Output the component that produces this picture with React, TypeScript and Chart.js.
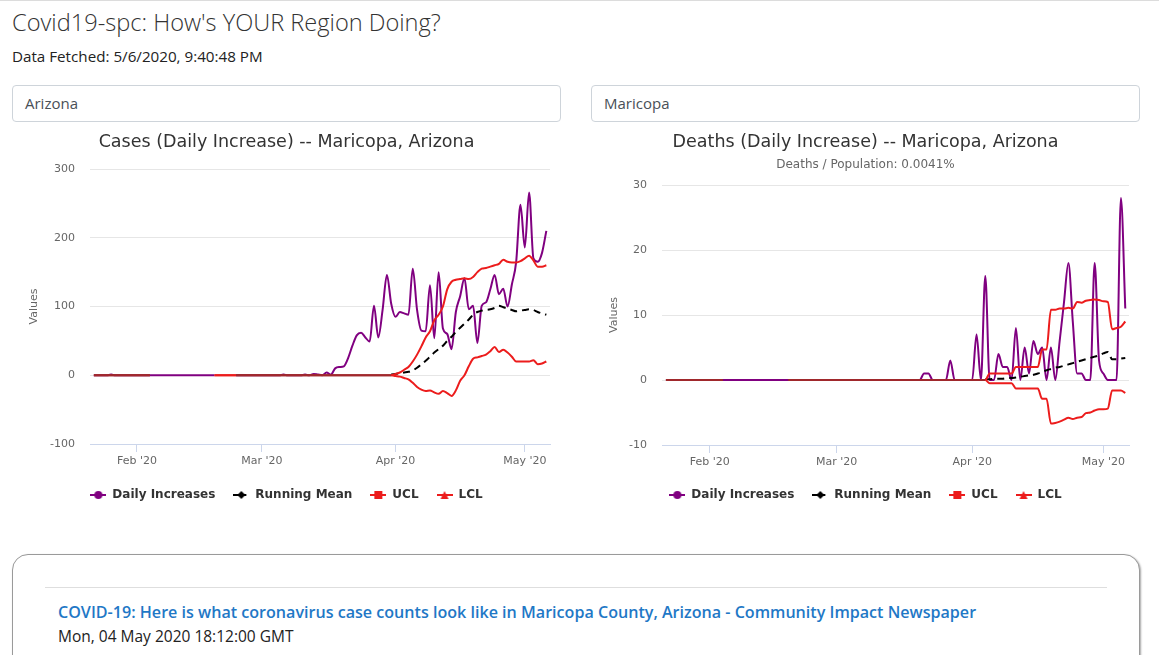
import React, { useEffect, useRef } from "react";
import { Chart, registerables } from "chart.js";

Chart.register(...registerables);

// One value per day, day 0 = 22 Jan 2020, last day = 6 May 2020.
const TICK_DAYS = [10, 39, 70, 100];
const TICK_LABELS = ["Feb '20", "Mar '20", "Apr '20", "May '20"];
const SERIES_NAMES = ["Daily Increases", "Running Mean", "UCL", "LCL"];

const casesDaily = [
  0, 0, 0, 0, 1, 0, 0, 0, 0, 0,
  0, 0, 0, 0, 0, 0, 0, 0, 0, 0,
  0, 0, 0, 0, 0, 0, 0, 0, 0, null,
  null, null, null, 0, 0, 0, 0, 0, 0, 0,
  0, 0, 0, 0, 1, 0, 0, 0, 0, 1,
  0, 2, 1, 0, 4, 1, 10, 12, 13, 25,
  43, 58, 62, 55, 49, 101, 55, 95, 146, 104,
  85, 92, 90, 88, 155, 95, 65, 64, 131, 54,
  150, 68, 60, 38, 92, 115, 141, 96, 101, 47,
  101, 106, 125, 146, 118, 126, 100, 132, 165, 248,
  186, 266, 170, 165, 178, 210,
];

const casesMean = [
  null, null, null, null, null, null, null, null, null, null,
  null, null, null, null, null, null, null, null, null, null,
  null, null, null, null, null, null, null, null, null, null,
  null, null, null, null, null, null, null, null, null, null,
  null, null, null, null, null, null, null, null, null, null,
  null, null, null, null, null, null, null, null, null, null,
  null, null, null, null, null, null, null, null, null, 1,
  2, 3, 4, 5, 7, 11, 16, 21, 27, 33,
  38, 43, 50, 56, 63, 69, 75, 81, 88, 92,
  94, 95, 96, 98, 101, 99, 97, 95, 93, 94,
  95, 96, 95, 92, 90, 88,
];

const casesUcl = [
  0, 0, 0, 0, 0, 0, 0, 0, 0, 0,
  0, 0, 0, 0, null, null, null, null, null, null,
  null, null, null, null, null, null, null, null, 0, 0,
  0, 0, 0, 0, 0, 0, 0, 0, 0, 0,
  0, 0, 0, 0, 0, 0, 0, 0, 0, 0,
  0, 0, 0, 0, 0, 0, 0, 0, 0, 0,
  0, 0, 0, 0, 0, 0, 0, 0, 0, 0,
  2, 4, 8, 12, 20, 30, 42, 55, 64, 80,
  88, 100, 125, 136, 139, 140, 141, 140, 143, 150,
  155, 156, 158, 160, 162, 168, 165, 164, 164, 166,
  170, 174, 167, 158, 158, 160,
];

const casesLcl = [
  0, 0, 0, 0, 0, 0, 0, 0, 0, 0,
  0, 0, 0, 0, null, null, null, null, null, null,
  null, null, null, null, null, null, null, null, 0, 0,
  0, 0, 0, 0, 0, 0, 0, 0, 0, 0,
  0, 0, 0, 0, 0, 0, 0, 0, 0, 0,
  0, 0, 0, 0, 0, 0, 0, 0, 0, 0,
  0, 0, 0, 0, 0, 0, 0, 0, 0, 0,
  -1, -2, -4, -6, -11, -17, -21, -23, -22, -25,
  -27, -23, -26, -30, -22, -8, 0, 13, 24, 26,
  28, 30, 35, 41, 34, 37, 33, 27, 20, 20,
  20, 20, 22, 16, 17, 20,
];

const deathsDaily = [
  0, 0, 0, 0, 0, 0, 0, 0, 0, 0,
  0, 0, 0, 0, 0, 0, 0, 0, 0, 0,
  0, 0, 0, 0, 0, 0, 0, 0, 0, 0,
  0, 0, 0, 0, 0, 0, 0, 0, 0, 0,
  0, 0, 0, 0, 0, 0, 0, 0, 0, 0,
  0, 0, 0, 0, 0, 0, 0, 0, 0, 1,
  1, 0, 0, 0, 0, 3, 0, 0, 0, 0,
  0, 7, 0, 16, 0, 0, 4, 2, 2, 0,
  8, 0, 5, 1, 6, 4, 5, 0, 5, 0,
  6, 12, 18, 9, 1, 1, 0, 0, 18, 3,
  1, 0, 0, 0, 28, 11,
];

const deathsMean = [
  null, null, null, null, null, null, null, null, null, null,
  null, null, null, null, null, null, null, null, null, null,
  null, null, null, null, null, null, null, null, null, null,
  null, null, null, null, null, null, null, null, null, null,
  null, null, null, null, null, null, null, null, null, null,
  null, null, null, null, null, null, null, null, null, null,
  null, null, null, null, null, null, null, null, null, null,
  null, null, null, 0.1, 0.1, 0.2, 0.2, 0.2, 0.3, 0.3,
  0.4, 0.5, 0.6, 0.7, 0.8, 1.0, 1.2, 1.5, 1.7, 1.9,
  2.0, 2.2, 2.4, 2.6, 2.8, 3.0, 3.2, 3.4, 3.6, 3.8,
  4.1, 4.3, 3.2, 3.2, 3.3, 3.4,
];

const deathsUcl = [
  0, 0, 0, 0, 0, 0, 0, 0, 0, 0,
  0, 0, 0, 0, null, null, null, null, null, null,
  null, null, null, null, null, null, null, null, 0, 0,
  0, 0, 0, 0, 0, 0, 0, 0, 0, 0,
  0, 0, 0, 0, 0, 0, 0, 0, 0, 0,
  0, 0, 0, 0, 0, 0, 0, 0, 0, 0,
  0, 0, 0, 0, 0, 0, 0, 0, 0, 0,
  0, 0, 0, 0, 1, 1, 1, 1, 1, 1,
  2, 2, 2, 2, 2, 2, 4.7, 4.7, 10.8, 10.8,
  11, 11, 11.1, 11, 12, 11.9, 12.2, 12.3, 12.4, 12.3,
  12.1, 12, 7.8, 8, 8.2, 9,
];

const deathsLcl = [
  0, 0, 0, 0, 0, 0, 0, 0, 0, 0,
  0, 0, 0, 0, null, null, null, null, null, null,
  null, null, null, null, null, null, null, null, 0, 0,
  0, 0, 0, 0, 0, 0, 0, 0, 0, 0,
  0, 0, 0, 0, 0, 0, 0, 0, 0, 0,
  0, 0, 0, 0, 0, 0, 0, 0, 0, 0,
  0, 0, 0, 0, 0, 0, 0, 0, 0, 0,
  0, 0, 0, 0, -0.5, -0.5, -0.5, -0.5, -0.5, -0.5,
  -1.3, -1.3, -1.3, -1.3, -1.3, -1.3, -2.9, -2.9, -6.7, -6.6,
  -6.4, -6.1, -5.8, -6.0, -5.8, -5.7, -5.1, -5.0, -4.7, -4.5,
  -4.5, -4.4, -1.6, -1.6, -1.6, -2.0,
];

const PURPLE = "#800080";
const BLACK = "#000000";
const RED = "#ec1c1c";
const OVERLAP_RED = "#a0282c";
const FONT = "'DejaVu Sans', Verdana, sans-serif";

Chart.defaults.font.family = FONT;

type Marker = "circle" | "diamond" | "square" | "triangle";

function legendSymbol(color: string, marker: Marker, dashed: boolean) {
  const c = document.createElement("canvas");
  c.width = 16;
  c.height = 12;
  const g = c.getContext("2d")!;
  g.strokeStyle = color;
  g.lineWidth = 2;
  if (dashed) g.setLineDash([5, 3]);
  g.beginPath();
  g.moveTo(0, 6);
  g.lineTo(16, 6);
  g.stroke();
  g.setLineDash([]);
  g.fillStyle = color;
  g.beginPath();
  if (marker === "circle") {
    g.arc(8, 6, 4, 0, Math.PI * 2);
  } else if (marker === "diamond") {
    g.moveTo(8, 2);
    g.lineTo(12, 6);
    g.lineTo(8, 10);
    g.lineTo(4, 6);
    g.closePath();
  } else if (marker === "square") {
    g.rect(4, 2, 8, 8);
  } else {
    g.moveTo(8, 2);
    g.lineTo(12, 10);
    g.lineTo(4, 10);
    g.closePath();
  }
  g.fill();
  return c;
}

const toPoints = (arr: (number | null)[]) => arr.map((y, x) => ({ x, y }));

interface PanelSpec {
  title: string;
  subtitle?: string;
  daily: (number | null)[];
  mean: (number | null)[];
  ucl: (number | null)[];
  lcl: (number | null)[];
  yMin: number;
  yMax: number;
  yStep: number;
  yAxisWidth: number;
  xAxisHeight: number;
  titleBottom: number;
  valuesPad: number;
}

function buildConfig(p: PanelSpec): any {
  // flat zero stretch where the control limits lie on top of the daily line
  const flatOverlap = (ctx: any) =>
    ctx.p0.parsed.y === 0 &&
    ctx.p1.parsed.y === 0 &&
    p.daily[ctx.p0DataIndex] !== null &&
    p.daily[ctx.p1DataIndex] !== null
      ? OVERLAP_RED
      : undefined;

  const line = {
    pointRadius: 0,
    pointHoverRadius: 0,
    borderWidth: 2,
    cubicInterpolationMode: "monotone",
    spanGaps: false,
    fill: false,
  };

  const symbols = [
    legendSymbol(PURPLE, "circle", false),
    legendSymbol(BLACK, "diamond", true),
    legendSymbol(RED, "square", false),
    legendSymbol(RED, "triangle", false),
  ];

  return {
    type: "line",
    data: {
      datasets: [
        { ...line, label: SERIES_NAMES[0], data: toPoints(p.daily), borderColor: PURPLE, backgroundColor: PURPLE, order: 4 },
        { ...line, label: SERIES_NAMES[1], data: toPoints(p.mean), borderColor: BLACK, backgroundColor: BLACK, borderDash: [7, 5], order: 3 },
        { ...line, label: SERIES_NAMES[2], data: toPoints(p.ucl), borderColor: RED, backgroundColor: RED, order: 2, segment: { borderColor: flatOverlap } },
        { ...line, label: SERIES_NAMES[3], data: toPoints(p.lcl), borderColor: RED, backgroundColor: RED, order: 1, segment: { borderColor: flatOverlap } },
      ],
    },
    options: {
      responsive: false,
      animation: false,
      devicePixelRatio: 1,
      events: [],
      layout: { padding: { left: 11, right: 11, top: 0, bottom: 0 } },
      plugins: {
        tooltip: { enabled: false },
        title: {
          display: true,
          text: p.title,
          color: "#333333",
          font: { family: FONT, size: 17.5, weight: "normal", lineHeight: 1.2 },
          padding: { top: 6.5, bottom: p.titleBottom },
        },
        subtitle: {
          display: !!p.subtitle,
          text: p.subtitle || "",
          color: "#666666",
          font: { family: FONT, size: 12, weight: "normal", lineHeight: 1.2 },
          padding: { top: 3.3, bottom: 12.8 },
        },
        legend: {
          position: "bottom",
          labels: {
            usePointStyle: true,
            pointStyleWidth: 16,
            boxHeight: 12,
            padding: 18,
            color: "#333333",
            font: { family: FONT, size: 12, weight: "bold" },
            generateLabels: (chart: any) =>
              chart.data.datasets.map((ds: any, i: number) => ({
                text: ds.label,
                pointStyle: symbols[i],
                fillStyle: ds.borderColor,
                strokeStyle: ds.borderColor,
                fontColor: "#333333",
                lineWidth: 0,
                hidden: false,
                datasetIndex: i,
              })),
          },
        },
      },
      scales: {
        x: {
          type: "linear",
          min: -0.9,
          max: 105.85,
          afterBuildTicks: (s: any) => {
            s.ticks = TICK_DAYS.map((value) => ({ value }));
          },
          afterFit: (s: any) => {
            s.height = p.xAxisHeight;
          },
          ticks: {
            autoSkip: false,
            maxRotation: 0,
            padding: 2.4,
            color: "#666666",
            font: { family: FONT, size: 11 },
            callback: (_v: any, i: number) => TICK_LABELS[i],
          },
          grid: { drawOnChartArea: false, drawTicks: true, tickLength: 8, color: "#ccd6eb" },
          border: { display: true, color: "#ccd6eb", width: 1 },
        },
        y: {
          min: p.yMin,
          max: p.yMax,
          afterFit: (s: any) => {
            s.width = p.yAxisWidth;
          },
          ticks: {
            stepSize: p.yStep,
            padding: 15,
            color: "#666666",
            font: { family: FONT, size: 11 },
          },
          grid: { color: "#e6e6e6", drawTicks: false, lineWidth: 1 },
          border: { display: false },
          title: {
            display: true,
            text: "Values",
            color: "#666666",
            font: { family: FONT, size: 11, lineHeight: 1.2 },
            padding: { top: p.valuesPad, bottom: 0 },
          },
        },
      },
    },
  };
}

const abs = (s: React.CSSProperties): React.CSSProperties => ({ position: "absolute", ...s });

export default function App() {
  const casesRef = useRef<HTMLCanvasElement>(null);
  const deathsRef = useRef<HTMLCanvasElement>(null);

  useEffect(() => {
    const cases = new Chart(
      casesRef.current!,
      buildConfig({
        title: "Cases (Daily Increase) -- Maricopa, Arizona",
        daily: casesDaily,
        mean: casesMean,
        ucl: casesUcl,
        lcl: casesLcl,
        yMin: -100,
        yMax: 300,
        yStep: 100,
        yAxisWidth: 67,
        xAxisHeight: 27,
        titleBottom: 16.5,
        valuesPad: 4.5,
      })
    );
    const deaths = new Chart(
      deathsRef.current!,
      buildConfig({
        title: "Deaths (Daily Increase) -- Maricopa, Arizona",
        subtitle: "Deaths / Population: 0.0041%",
        daily: deathsDaily,
        mean: deathsMean,
        ucl: deathsUcl,
        lcl: deathsLcl,
        yMin: -10,
        yMax: 30,
        yStep: 10,
        yAxisWidth: 60,
        xAxisHeight: 26,
        titleBottom: 2,
        valuesPad: 5.5,
      })
    );
    return () => {
      cases.destroy();
      deaths.destroy();
    };
  }, []);

  const inputBox: React.CSSProperties = {
    height: 37,
    width: 549,
    boxSizing: "border-box",
    border: "1px solid #ced4da",
    borderRadius: 4,
    paddingLeft: 12,
    fontSize: 15,
    lineHeight: "35px",
    color: "#495057",
  };

  return (
    <div style={{ fontFamily: "'Open Sans', sans-serif" }}>
      <div style={abs({ left: 0, top: 0, width: 1159, height: 1, background: "#dcdcdc" })} />
      <div
        style={abs({
          left: 12,
          top: 6,
          fontSize: 23.6,
          fontWeight: 300,
          lineHeight: "32px",
          color: "#333",
          whiteSpace: "nowrap",
        })}
      >
        Covid19-spc: How's YOUR Region Doing?
      </div>
      <div style={abs({ left: 12, top: 46, fontSize: 15.2, lineHeight: "20px", color: "#222", whiteSpace: "nowrap" })}>
        Data Fetched: 5/6/2020, 9:40:48 PM
      </div>
      <div style={abs({ left: 12, top: 85, ...inputBox })}>Arizona</div>
      <div style={abs({ left: 591, top: 85, ...inputBox })}>Maricopa</div>

      <canvas ref={casesRef} width={549} height={386} style={abs({ left: 12, top: 125, width: 549, height: 386 })} />
      <canvas ref={deathsRef} width={549} height={386} style={abs({ left: 591, top: 125, width: 549, height: 386 })} />

      <div
        style={abs({
          left: 12,
          top: 554,
          width: 1128,
          height: 160,
          boxSizing: "border-box",
          border: "1px solid #9a9a9a",
          borderRadius: 16,
          boxShadow: "1px 1px 2px rgba(0,0,0,0.35)",
          background: "#fff",
        })}
      />
      <div style={abs({ left: 45, top: 587, width: 1062, height: 1, background: "#dedede" })} />
      <div
        style={abs({
          left: 58,
          top: 602,
          fontSize: 16.1,
          fontWeight: 600,
          lineHeight: "20px",
          color: "#1f78c6",
          whiteSpace: "nowrap",
        })}
      >
        COVID-19: Here is what coronavirus case counts look like in Maricopa County, Arizona - Community Impact Newspaper
      </div>
      <div style={abs({ left: 58, top: 626, fontSize: 15.5, lineHeight: "20px", color: "#222", whiteSpace: "nowrap" })}>
        Mon, 04 May 2020 18:12:00 GMT
      </div>
    </div>
  );
}
